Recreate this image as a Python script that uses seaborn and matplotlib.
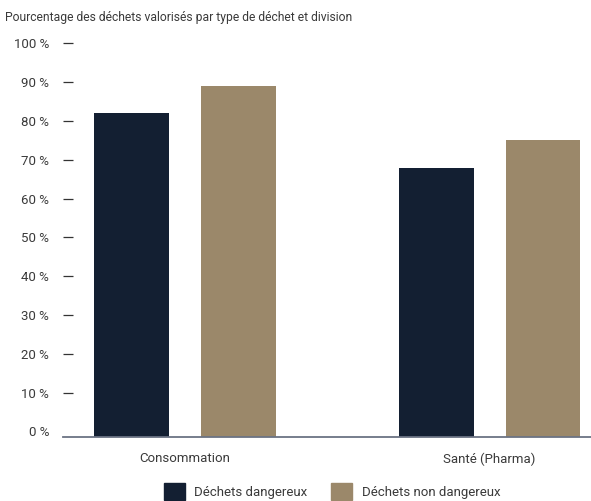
import matplotlib
matplotlib.use("Agg")
import matplotlib.pyplot as plt
from matplotlib.transforms import ScaledTranslation
import pandas as pd
import seaborn as sns

# Share of recovered waste by division and waste type (%)
divisions = ["Consommation", "Santé (Pharma)"]
waste_types = ["Déchets dangereux", "Déchets non dangereux"]
hazardous = [83.5, 69.3]
non_hazardous = [90.5, 76.5]
y_ticks = [0, 10, 20, 30, 40, 50, 60, 70, 80, 90, 100]
y_tick_labels = [f"{v} %" for v in y_ticks]
title = "Pourcentage des déchets valorisés par type de déchet et division"

df = pd.DataFrame({
    "division": divisions * 2,
    "type": [waste_types[0]] * len(divisions) + [waste_types[1]] * len(divisions),
    "value": hazardous + non_hazardous,
})

sns.set_theme(style="white")
plt.rcParams["font.family"] = ["Roboto", "DejaVu Sans"]

text_color = "#3a3a3a"
palette = {waste_types[0]: "#131f32", waste_types[1]: "#9b886a"}

fig = plt.figure(figsize=(5.91, 5.01), dpi=100)
ax = fig.add_axes([63 / 591, 1 - 437 / 501, 1 - 63 / 591, 388 / 501])

sns.barplot(data=df, x="division", y="value", hue="type", palette=palette,
            order=divisions, hue_order=waste_types, width=0.70, gap=0.30,
            saturation=1, linewidth=0, legend=False, ax=ax)

ax.set_xlim(-0.40, 1.333)
ax.set_ylim(0, 100)
ax.set_xlabel("")
ax.set_ylabel("")

for side in ("top", "right", "left"):
    ax.spines[side].set_visible(False)
ax.spines["bottom"].set_color("#6b7384")
ax.spines["bottom"].set_linewidth(1.3)

ax.set_yticks(y_ticks)
ax.set_yticklabels(y_tick_labels)
ax.tick_params(axis="y", left=True, direction="in", length=7.2, width=0.9,
               color="#333333", pad=10, labelsize=9.5, labelcolor=text_color)
ax.tick_params(axis="x", bottom=False, length=0, pad=11, labelsize=9.5,
               labelcolor=text_color)

# y tick marks and labels sit slightly above the baseline
shift = ScaledTranslation(0, 4 / 72, fig.dpi_scale_trans)
for i, t in enumerate(ax.yaxis.get_major_ticks()):
    t.tick1line.set_transform(t.tick1line.get_transform() + shift)
    t.label1.set_transform(t.label1.get_transform() + shift)
    if i == 0:
        t.tick1line.set_visible(False)

fig.text(5 / 591, 1 - 18 / 501, title, fontsize=8.7, color=text_color,
         ha="left", va="center")

handles = [plt.Rectangle((0, 0), 1, 1, color=palette[w]) for w in waste_types]
fig.legend(handles, waste_types, loc="upper center",
           bbox_to_anchor=(332 / 591, 1 - 483 / 501), ncol=2, frameon=False,
           fontsize=9.5, labelcolor=text_color, handlelength=1.6,
           handleheight=1.6, handletextpad=0.7, columnspacing=1.8,
           borderpad=0, borderaxespad=0)

fig.savefig("out.png", dpi=100)
